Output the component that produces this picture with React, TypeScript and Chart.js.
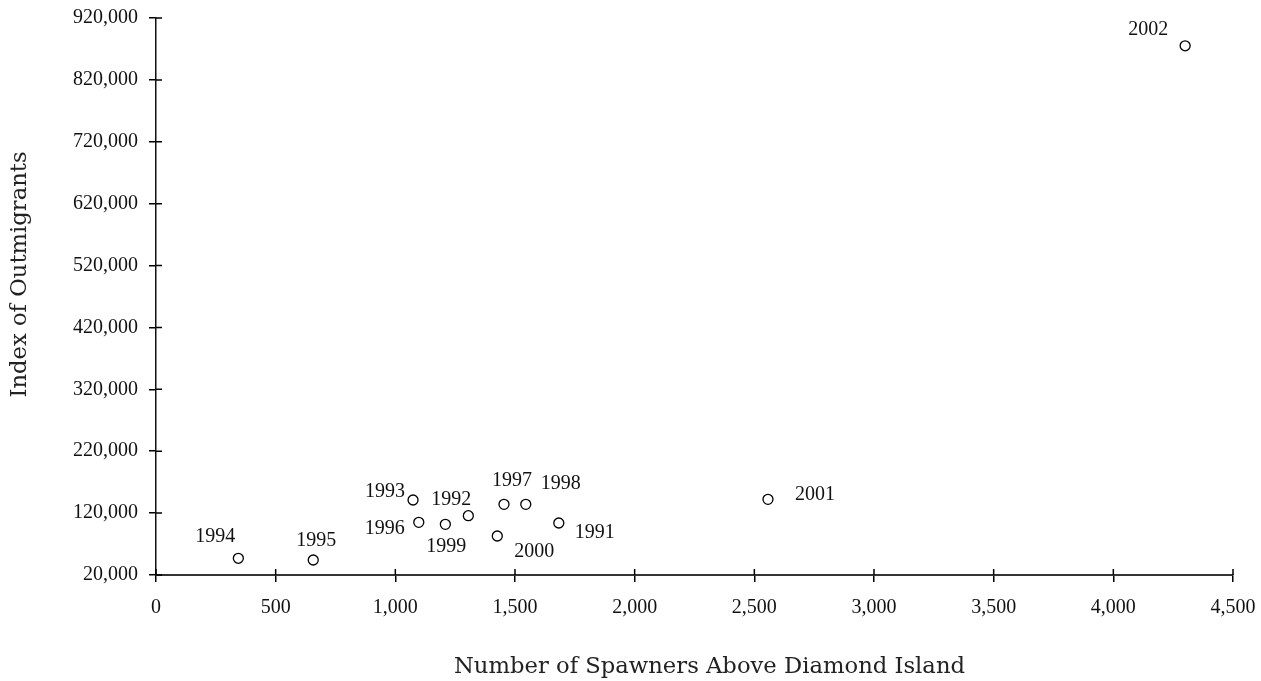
// App.tsx
import { useEffect, useRef } from 'react';
import { Chart, registerables, ChartConfiguration, Plugin } from 'chart.js';

Chart.register(...registerables);

// Data
const years: string[] = ['1991', '1992', '1993', '1994', '1995', '1996', '1997', '1998', '1999', '2000', '2001', '2002'];
const spawners: number[] = [1683, 1305, 1074, 344, 657, 1098, 1454, 1545, 1209, 1426, 2557, 4300];
const outmigrants: number[] = [104000, 115800, 141200, 47000, 44200, 105100, 134200, 134200, 101900, 83000, 142300, 875100];

// Axis ranges / ticks
const xTicks = { min: 0, max: 4500, step: 500 };
const yTicks = { min: 20000, max: 920000, step: 100000 };

const xTitle = 'Number of Spawners Above Diamond Island';
const yTitle = 'Index of Outmigrants';

// where each year label sits relative to its point (px)
const labelOffsets: [number, number][] = [
    [36, 10], [-17, -16], [-28, -8], [-23, -22], [3, -19], [-34, 6],
    [8, -24], [35, -21], [1, 22], [37, 16], [47, -5], [-37, -16],
];

const tickFont = '20px "Liberation Serif", "Times New Roman", serif';
const titleFont = '22.7px "DejaVu Serif", serif';

// draws year labels, the inner half of tick marks and the axis titles
const decorations: Plugin<'scatter'> = {
    id: 'decorations',
    afterDraw(chart) {
        const { ctx, chartArea } = chart;
        const xs = chart.scales.x;
        const ys = chart.scales.y;
        ctx.save();

        // inner tick marks (crossing the axis)
        ctx.strokeStyle = '#000';
        ctx.lineWidth = 1.5;
        ctx.beginPath();
        xs.ticks.forEach((t) => {
            const px = xs.getPixelForValue(t.value);
            ctx.moveTo(px, chartArea.bottom);
            ctx.lineTo(px, chartArea.bottom - 6);
        });
        ys.ticks.forEach((t) => {
            const py = ys.getPixelForValue(t.value);
            ctx.moveTo(chartArea.left, py);
            ctx.lineTo(chartArea.left + 6, py);
        });
        ctx.stroke();

        // year labels
        const meta = chart.getDatasetMeta(0);
        ctx.font = tickFont;
        ctx.fillStyle = '#111';
        ctx.textAlign = 'center';
        ctx.textBaseline = 'middle';
        meta.data.forEach((pt, i) => {
            const [dx, dy] = labelOffsets[i];
            ctx.fillText(years[i], pt.x + dx, pt.y + dy);
        });

        // axis titles
        ctx.font = titleFont;
        ctx.fillStyle = '#222';
        ctx.fillText(xTitle, (chartArea.left + chartArea.right) / 2 + 15, chart.height - 14);
        ctx.translate(20, (chartArea.top + chartArea.bottom) / 2 - 22);
        ctx.rotate(-Math.PI / 2);
        ctx.fillText(yTitle, 0, 0);
        ctx.restore();
    },
};

const ScatterChart: React.FC = () => {
    const canvasRef = useRef<HTMLCanvasElement | null>(null);
    const chartInstance = useRef<Chart<'scatter'> | null>(null);

    useEffect(() => {
        if (!canvasRef.current) return;
        if (chartInstance.current) chartInstance.current.destroy();

        const config: ChartConfiguration<'scatter'> = {
            type: 'scatter',
            data: {
                datasets: [
                    {
                        label: 'Outmigrants',
                        data: spawners.map((x, i) => ({ x, y: outmigrants[i] })),
                        pointRadius: 5,
                        pointBorderWidth: 1.3,
                        pointBackgroundColor: '#fff',
                        pointBorderColor: '#000',
                    },
                ],
            },
            options: {
                animation: false,
                responsive: true,
                maintainAspectRatio: false,
                layout: { padding: { top: 18, right: 28, left: 0, bottom: 0 } },
                plugins: {
                    legend: { display: false },
                    tooltip: { enabled: false },
                },
                scales: {
                    x: {
                        type: 'linear',
                        min: xTicks.min,
                        max: xTicks.max,
                        afterFit: (scale: any) => {
                            scale.height = 106;
                            // let layout padding decide the plot edges
                            scale.paddingLeft = 0;
                            scale.paddingRight = 0;
                        },
                        ticks: {
                            stepSize: xTicks.step,
                            padding: 14,
                            color: '#111',
                            font: { family: '"Liberation Serif", serif', size: 20 },
                            callback: (v) => Number(v).toLocaleString('en-US'),
                            maxRotation: 0,
                        },
                        grid: { drawOnChartArea: false, tickLength: 7, color: '#000', lineWidth: 1.5 },
                        border: { color: '#333', width: 2 },
                    },
                    y: {
                        type: 'linear',
                        min: yTicks.min,
                        max: yTicks.max,
                        afterFit: (scale: any) => {
                            scale.width = 156;
                            scale.paddingTop = 0;
                            scale.paddingBottom = 0;
                        },
                        ticks: {
                            stepSize: yTicks.step,
                            padding: 11,
                            color: '#111',
                            font: { family: '"Liberation Serif", serif', size: 20 },
                            callback: (v) => Number(v).toLocaleString('en-US'),
                        },
                        grid: { drawOnChartArea: false, tickLength: 7, color: '#000', lineWidth: 1.5 },
                        border: { color: '#111', width: 1.5 },
                    },
                },
            },
            plugins: [decorations],
        };

        chartInstance.current = new Chart(canvasRef.current, config);

        return () => {
            if (chartInstance.current) {
                chartInstance.current.destroy();
                chartInstance.current = null;
            }
        };
    }, []);

    return <canvas ref={canvasRef} />;
};

export default function App() {
    return (
        <div style={{ position: 'fixed', left: 0, top: 0, width: 1261, height: 681, background: '#fff' }}>
            <ScatterChart />
        </div>
    );
}
